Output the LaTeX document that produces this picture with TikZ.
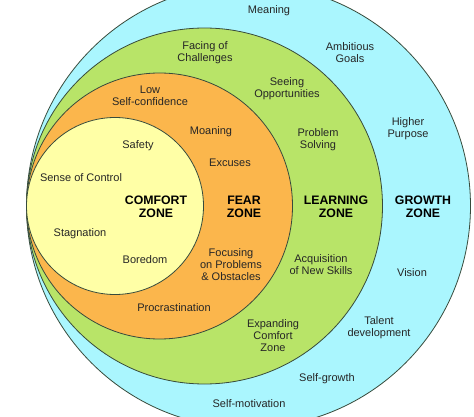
\documentclass[tikz,border=0pt]{standalone}
\usepackage{fontspec}
\setmainfont{Liberation Sans}
\definecolor{growthc}{RGB}{170,246,254}
\definecolor{learnc}{RGB}{184,228,104}
\definecolor{fearc}{RGB}{251,182,76}
\definecolor{comfc}{RGB}{255,255,166}
\definecolor{edgec}{RGB}{55,75,60}
\begin{document}
\begin{tikzpicture}[x=1pt,y=-1pt,
  zone/.style={draw=edgec, line width=0.8pt},
  lbl/.style={inner sep=0pt, align=center, font=\fontsize{11}{12}\selectfont, text=black!85},
  big/.style={inner sep=0pt, align=center, font=\fontsize{12.3}{13.4}\selectfont\bfseries}]
\useasboundingbox (0,0) rectangle (474,417);
\fill[white] (0,0) rectangle (474,417);
\begin{scope}
\clip (0,0) rectangle (474,417);
\draw[zone, fill=growthc] (248.5,206) circle (222);
\draw[zone, fill=learnc] (204.5,206) circle (178);
\draw[zone, fill=fearc] (159.5,206) circle (133);
\draw[zone, fill=comfc] (115,206) circle (88.5);
\end{scope}
% growth zone
\node[lbl] (meaning) at (269,11) {Meaning};
\node[lbl] (ambitious) at (350,53) {Ambitious\\Goals};
\node[lbl] (higher) at (408,129) {Higher\\Purpose};
\node[big] (growth) at (423,207) {GROWTH\\ZONE};
\node[lbl] (vision) at (412,273) {Vision};
\node[lbl] (talent) at (379,328) {Talent\\development};
\node[lbl] (selfgrowth) at (327,379) {Self-growth};
\node[lbl] (selfmot) at (249,404) {Self-motivation};
% learning zone
\node[lbl] (facing) at (205,53) {Facing of\\Challenges};
\node[lbl] (seeing) at (287,89) {Seeing\\Opportunities};
\node[lbl] (problem) at (318,140) {Problem\\Solving};
\node[big] (learning) at (336,207) {LEARNING\\ZONE};
\node[lbl] (acq) at (321,265) {Acquisition\\of New Skills};
\node[lbl] (expanding) at (273,336) {Expanding\\Comfort\\Zone};
% fear zone
\node[lbl] (low) at (150,96) {Low\\Self-confidence};
\node[lbl] (moaning) at (211,132) {Moaning};
\node[lbl] (excuses) at (230,163) {Excuses};
\node[big] (fear) at (244,207) {FEAR\\ZONE};
\node[lbl] (focusing) at (231,265) {Focusing\\on Problems\\\& Obstacles};
\node[lbl] (procr) at (174,308) {Procrastination};
% comfort zone
\node[lbl] (safety) at (138,146) {Safety};
\node[lbl] (sense) at (81,178) {Sense of Control};
\node[big] (comfort) at (156,207) {COMFORT\\ZONE};
\node[lbl] (stagnation) at (80,234) {Stagnation};
\node[lbl] (boredom) at (145,260) {Boredom};
\end{tikzpicture}
\end{document}
